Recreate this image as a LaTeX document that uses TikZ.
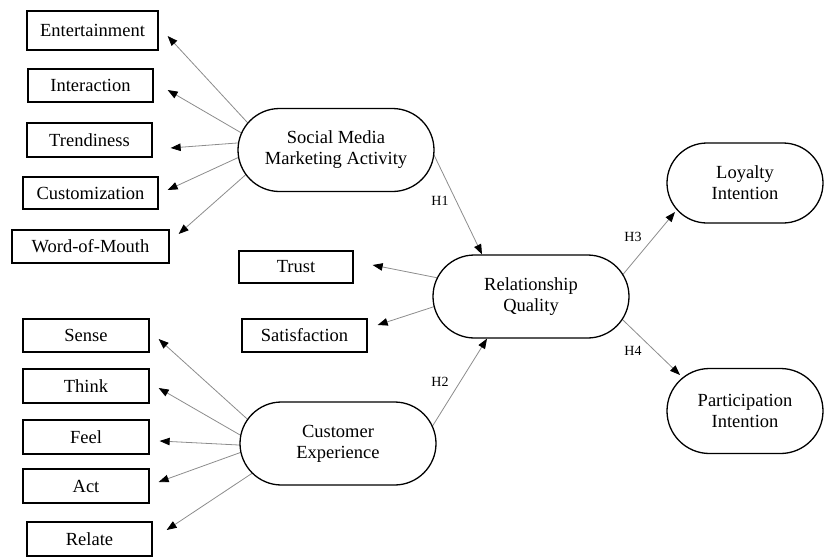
\documentclass[tikz,border=0pt]{standalone}
\usepackage{fontspec}
\setmainfont{Liberation Serif}
\usetikzlibrary{arrows.meta,shapes.misc,backgrounds,calc}
\begin{document}
\begin{tikzpicture}[x=1pt,y=-1pt,
 box/.style={draw=black, line width=1.3pt, minimum height=33pt, inner sep=0pt, font=\fontsize{18.5}{21}\selectfont},
 stad/.style={rounded rectangle, draw=black, line width=1.3pt, fill=white, minimum width=196pt, minimum height=83pt, align=center, inner sep=0pt, font=\fontsize{18.5}{21}\selectfont},
 arr/.style={draw=black!45, line width=0.8pt, -{Triangle[length=10pt,width=7.5pt,color=black]}},
 hlab/.style={font=\fontsize{14}{16}\selectfont, inner sep=0pt}]
\useasboundingbox (0,0) rectangle (824,557);

% Social media marketing indicators
\node[box, minimum width=131pt, minimum height=39pt] (ent) at (92.5,30.5) {Entertainment};
\node[box, minimum width=125pt] (int) at (90.5,85.5) {Interaction};
\node[box, minimum width=125pt, minimum height=34pt] (tre) at (89.5,140) {Trendiness};
\node[box, minimum width=135pt, minimum height=32pt] (cus) at (90.5,193) {Customization};
\node[box, minimum width=157pt] (wom) at (90.5,246.5) {Word-of-Mouth};

% Constructs
\node[stad] (sm) at (336,150) {Social Media\\Marketing Activity};
\node[stad] (rq) at (531,296.5) {Relationship\\Quality};
\node[stad] (ce) at (338,443.5) {Customer\\Experience};
\node[stad, minimum width=156pt, minimum height=80pt] (li) at (745,183) {Loyalty\\Intention};
\node[stad, minimum width=156pt, minimum height=85pt] (pi) at (745,411) {Participation\\Intention};

% Relationship quality indicators
\node[box, minimum width=114pt, minimum height=32pt] (tru) at (296,267) {Trust};
\node[box, minimum width=125pt] (sat) at (304.5,335.5) {Satisfaction};

% Customer experience indicators
\node[box, minimum width=126pt] (sen) at (86,335.5) {Sense};
\node[box, minimum width=126pt, minimum height=34pt] (thi) at (86,386) {Think};
\node[box, minimum width=126pt, minimum height=34pt] (fee) at (86,437) {Feel};
\node[box, minimum width=126pt, minimum height=34pt] (act) at (86,486) {Act};
\node[box, minimum width=125pt, minimum height=34pt] (rel) at (89.5,539) {Relate};

% Hypothesis labels
\node[hlab] (h1) at (440,201) {H1};
\node[hlab] (h2) at (440,382) {H2};
\node[hlab] (h3) at (633,237) {H3};
\node[hlab] (h4) at (633,351) {H4};

\begin{scope}[on background layer]
\draw[arr] ($(sm)+(-81.6,-19.9)$) -- ($(ent.east)+(9,5.5)$);
\draw[arr] ($(sm)+(-89.5,-14.1)$) -- ($(int.east)+(14,4.5)$);
\draw[arr] ($(sm)+(-91,-7.6)$) -- ($(tre.east)+(18,8)$);
\draw[arr] ($(sm)+(-90.6,4.2)$) -- ($(cus.east)+(9,-3)$);
\draw[arr] ($(sm)+(-85.2,20.2)$) -- ($(wom.east)+(9,-12.5)$);

\draw[arr] ($(ce)+(-82.6,-17.1)$) -- ($(sen.east)+(9,3.5)$);
\draw[arr] ($(ce)+(-88.2,-2.9)$) -- ($(thi.east)+(9,2)$);
\draw[arr] ($(ce)+(-89.4,2)$) -- ($(fee.east)+(10,4)$);
\draw[arr] ($(ce)+(-89.3,6)$) -- ($(act.east)+(9,-4)$);
\draw[arr] ($(ce)+(-80.2,26)$) -- ($(rel.east)+(14,-9)$);

\draw[arr] ($(rq)+(-90.7,-18.1)$) -- ($(tru.east)+(19,-2)$);
\draw[arr] ($(rq)+(-91.3,8.3)$) -- ($(sat.east)+(10,-10.5)$);

\draw[arr] ($(sm)+(93.2,-5)$) -- ($(rq.north)+(-49,0)$);
\draw[arr] ($(ce)+(91.8,-13.1)$) -- ($(rq.south)+(-44,0)$);
\draw[arr] ($(rq)+(89,-18.5)$) -- ($(li)+(-70,29)$);
\draw[arr] ($(rq)+(88.5,20.2)$) -- ($(pi)+(-65,-36)$);
\end{scope}
\end{tikzpicture}
\end{document}
